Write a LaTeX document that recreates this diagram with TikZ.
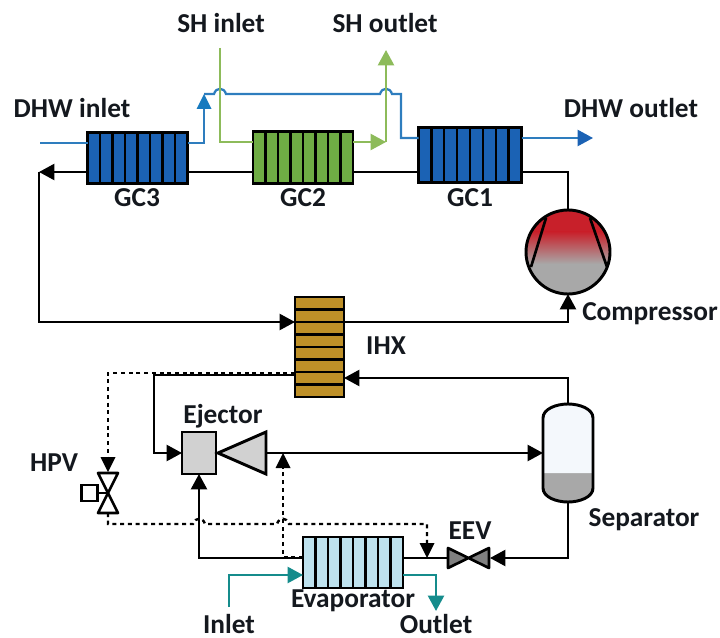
\documentclass[tikz,border=0pt]{standalone}
\usepackage{fontspec}
\setmainfont{Carlito}
\usetikzlibrary{arrows.meta,calc}
\definecolor{hxblue}{HTML}{1B62B4}
\definecolor{lnblue}{HTML}{2E7DBE}
\definecolor{hxgreen}{HTML}{6FAC44}
\definecolor{lngreen}{HTML}{8DBB5A}
\definecolor{hxbrown}{HTML}{BE9028}
\definecolor{hxice}{HTML}{BEE2EE}
\definecolor{teal2}{HTML}{158C8C}
\definecolor{comprred}{HTML}{C8202A}
\definecolor{comprgrey}{HTML}{A8A8A8}
\definecolor{sepfill}{HTML}{F4F8FC}
\definecolor{txt}{HTML}{14181E}
\newcommand{\pxu}{0.75pt}
\tikzset{
  x=\pxu,y=-\pxu,
  lbl/.style={font=\fontsize{20.5}{24}\selectfont\bfseries,text=txt,inner sep=0pt},
  flow/.style={line width=1.7pt,black},
  ctrl/.style={line width=1.8pt,black,dash pattern=on 3pt off 2.8pt},
  blueln/.style={line width=1.7pt,lnblue},
  greenln/.style={line width=1.7pt,lngreen},
  tealln/.style={line width=1.7pt,teal2},
  tip/.style={-{Triangle[length=11.5pt,width=12pt]}},
  hxbox/.style={draw=black,line width=2.2pt,inner sep=0pt,outer sep=0pt},
}
% name, centre x, centre y, width, height, fill
\newcommand{\hxv}[6]{%
  \node[hxbox,fill=#6,minimum width=#4*\pxu,minimum height=#5*\pxu] (#1) at (#2,#3) {};
  \foreach \k in {1,...,7}{
    \draw[line width=1.8pt] ($(#1.south west)!\k/8!(#1.south east)$) -- ($(#1.north west)!\k/8!(#1.north east)$);
  }}
\newcommand{\hxh}[6]{%
  \node[hxbox,fill=#6,minimum width=#4*\pxu,minimum height=#5*\pxu] (#1) at (#2,#3) {};
  \foreach \k in {1,...,7}{
    \draw[line width=1.8pt] ($(#1.north west)!\k/8!(#1.south west)$) -- ($(#1.north east)!\k/8!(#1.south east)$);
  }}
\begin{document}
\begin{tikzpicture}
\useasboundingbox (0,0) rectangle (720,638);
% --- equipment
\hxv{gcthree}{137.5}{158}{100}{51}{hxblue}
\hxv{gctwo}{303}{157.5}{100}{52}{hxgreen}
\hxv{gcone}{470}{155}{103}{55}{hxblue}
\hxh{ihx}{319.5}{347}{49}{100}{hxbrown}
\hxv{evap}{353}{562.5}{100}{51}{hxice}
\node[circle,draw=black,line width=2.2pt,minimum size=84*\pxu,inner sep=0pt,outer sep=0pt,
  path picture={
    \fill[comprred] (-48,-47) rectangle (48,-20);
    \shade[top color=comprred,bottom color=comprgrey] (-48,-20.2) rectangle (48,12);
    \fill[comprgrey] (-48,11.8) rectangle (48,48);
  }] (comp) at (568,252) {};
\draw[line width=2pt] (546,218) -- (531,267);
\draw[line width=2pt] (590,218) -- (607,267);
% ejector
\node[draw=black,fill=black!18,line width=2.2pt,minimum width=34*\pxu,minimum height=42*\pxu,inner sep=0pt,outer sep=0pt] (ejbox) at (199,453) {};
\coordinate (ejnoz) at (266,453);
\draw[fill=black!18,line width=2.2pt,line join=miter] (218,453) -- (266,432) -- (266,474) -- cycle;
% separator
\node[minimum width=50*\pxu,minimum height=98*\pxu,inner sep=0pt,outer sep=0pt] (sep) at (568,453) {};
\fill[comprgrey] (543,473) -- (593,473) -- (593,488) .. controls (593,497) and (580,502) .. (568,502) .. controls (556,502) and (543,497) .. (543,488) -- cycle;
\fill[sepfill] (543,473) -- (593,473) -- (593,418) .. controls (593,409) and (580,404) .. (568,404) .. controls (556,404) and (543,409) .. (543,418) -- cycle;
\draw[line width=2.2pt] (543,418) .. controls (543,409) and (556,404) .. (568,404) .. controls (580,404) and (593,409) .. (593,418) -- (593,488) .. controls (593,497) and (580,502) .. (568,502) .. controls (556,502) and (543,497) .. (543,488) -- cycle;
% EEV
\node[minimum width=43*\pxu,minimum height=21*\pxu,inner sep=0pt,outer sep=0pt] (eev) at (468.5,558) {};
\draw[fill=black!50,line width=2pt,line join=round] (448,548) -- (489,568) -- (489,548) -- (448,568) -- cycle;
% HPV
\node[minimum width=20*\pxu,minimum height=40*\pxu,inner sep=0pt,outer sep=0pt] (hpv) at (108,493) {};
\draw[fill=white,line width=2pt,line join=round] (98,473) -- (118,473) -- (98,513) -- (118,513) -- cycle;
\node[draw=black,fill=white,line width=2pt,minimum size=16*\pxu,inner sep=0pt,outer sep=0pt] (act) at (89.5,493) {};
\draw[line width=1.8pt] (act.east) -- (hpv.center);
% --- black circuit
\coordinate (pa) at (39,172);
\draw[flow] (comp.north) |- (gcone.east |- 0,172);
\draw[flow] (gcone.west |- 0,172) -- (gctwo.east |- 0,172);
\draw[flow] (gctwo.west |- 0,172) -- (gcthree.east |- 0,172);
\draw[flow,tip] (gcthree.west |- 0,172) -- (pa);
\draw[flow,tip] (pa) -- (39,322) -- (ihx.west |- 0,322);
\draw[flow,tip] (ihx.east |- 0,322) -- (568,322) -- (comp.south);
\draw[flow,tip] (sep.north) -- (568,378) -- (ihx.east |- 0,378);
\draw[flow,tip] (ihx.west |- 0,375) -- (154,375) -- (154,453) -- (ejbox.west);
\draw[flow,tip] (ejnoz) -- (sep.west);
\draw[flow,tip] (sep.south) -- (568,558) -- (eev.east);
\draw[flow] (eev.west) -- (evap.east |- 0,558);
\draw[flow,tip] (evap.west |- 0,558) -- (199,558) -- (ejbox.south);
% --- control (dashed)
\draw[ctrl] (ihx.west |- 0,373) -- (108,373) -- (108,457);
\draw[ctrl] (hpv.south) -- (108,524) -- (193,524) .. controls (195,517) and (203,517) .. (205,524) -- (277,524) .. controls (279,517) and (287,517) .. (289,524) -- (427,524) -- (427,543);
\fill (427,558) -- (419.5,543) -- (434.5,543) -- cycle;
\draw[ctrl] (evap.west |- 0,557) -- (283,557) -- (283,468);
\fill (283,453) -- (275.5,468) -- (290.5,468) -- cycle;
\fill (108,472) -- (100.5,457) -- (115.5,457) -- cycle;
% --- blue
\coordinate (dhwin) at (40,143);
\coordinate (dhwout) at (593,138);
\draw[blueln] (dhwin) -- (gcthree.west |- 0,143);
\draw[blueln] (gcthree.east |- 0,143) -- (204,143) -- (204,108);
\fill[hxblue!85!cyan] (204,94) -- (196.5,109) -- (211.5,109) -- cycle;
\draw[blueln] (204,94) -- (214,94) .. controls (216,87) and (224,87) .. (226,94) -- (380,94) .. controls (382,87) and (390,87) .. (392,94) -- (401,94) -- (401,138) -- (gcone.west |- 0,138);
\draw[blueln,-{Triangle[length=11.5pt,width=12pt,color=hxblue]}] (gcone.east |- 0,138) -- (dhwout);
% --- green
\coordinate (shin) at (220,48);
\coordinate (shout) at (386,50);
\coordinate (shj) at (386,142);
\draw[greenln] (shin) -- (220,142) -- (gctwo.west |- 0,142);
\draw[greenln,-{Triangle[length=11.5pt,width=12pt]}] (gctwo.east |- 0,142) -- (shj);
\draw[greenln,-{Triangle[length=11.5pt,width=12pt]}] (shj) -- (shout);
% --- teal
\coordinate (evin) at (229,607);
\coordinate (evout) at (436,611);
\draw[tealln,tip] (evin) -- (229,575) -- (evap.west |- 0,575);
\draw[tealln,tip] (evap.east |- 0,575) -- (436,575) -- (evout);
% --- labels
\node[lbl] (l1) at (72,108) {DHW inlet};
\node[lbl] (l2) at (221,23) {SH inlet};
\node[lbl] (l3) at (385,23) {SH outlet};
\node[lbl] (l4) at (631,108) {DHW outlet};
\node[lbl] (l5) at (137,198) {GC3};
\node[lbl] (l6) at (303,198) {GC2};
\node[lbl] (l7) at (470,198) {GC1};
\node[lbl] (l8) at (650,314) {Compressor};
\node[lbl] (l9) at (386,346) {IHX};
\node[lbl] (l10) at (223,416) {Ejector};
\node[lbl] (l11) at (54,463) {HPV};
\node[lbl] (l12) at (470,531) {EEV};
\node[lbl] (l13) at (644,520) {Separator};
\node[lbl] (l14) at (353,601) {Evaporator};
\node[lbl] (l15) at (229,624) {Inlet};
\node[lbl] (l16) at (436,624) {Outlet};
\end{tikzpicture}
\end{document}
